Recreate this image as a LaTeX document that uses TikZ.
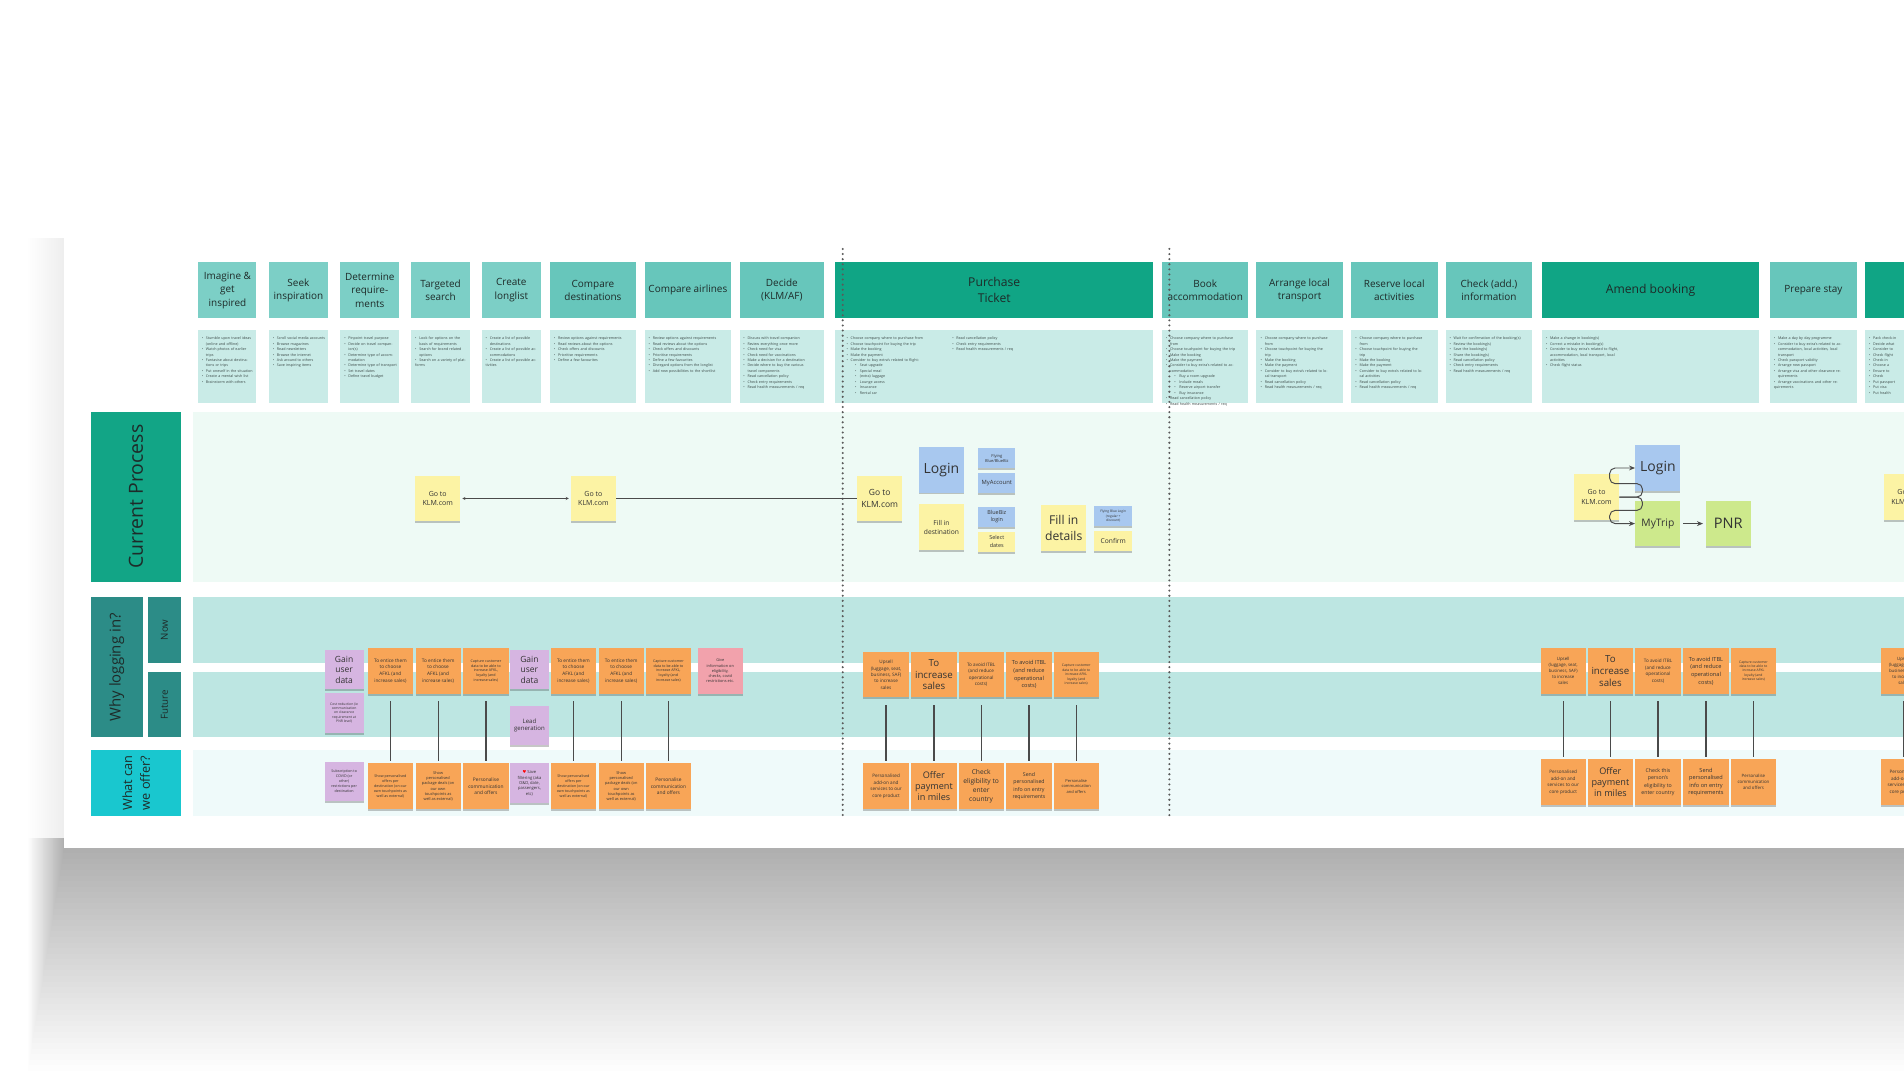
\documentclass[tikz,border=0pt]{standalone}
\usepackage{fontspec}
\setmainfont{Open Sans}
\newfontfamily\lanefont{Open Sans}
\newfontfamily\symfont{DejaVu Sans}
\usetikzlibrary{arrows.meta,shadows}
\definecolor{hdrL}{HTML}{7CCFC6}
\definecolor{hdrM}{HTML}{67C6BB}
\definecolor{hdrD}{HTML}{10A585}
\definecolor{descC}{HTML}{C9EBE7}
\definecolor{cpBox}{HTML}{12A586}
\definecolor{cpLane}{HTML}{EEFAF5}
\definecolor{whyBox}{HTML}{2C8C87}
\definecolor{whyLane}{HTML}{BDE6E2}
\definecolor{offBox}{HTML}{19C7CF}
\definecolor{offLane}{HTML}{EFFAFA}
\definecolor{yel}{HTML}{FCF3A4}
\definecolor{blu}{HTML}{A8C8EF}
\definecolor{grn}{HTML}{CDE98C}
\definecolor{org}{HTML}{F8A557}
\definecolor{pur}{HTML}{D6B5E1}
\definecolor{pnk}{HTML}{F2A2AC}
\definecolor{txt}{HTML}{1E2B29}
\definecolor{stxt}{HTML}{333333}
\definecolor{dtxt}{HTML}{3C4A48}
\definecolor{lnC}{HTML}{4A4A4A}
\definecolor{dotC}{HTML}{5A5A5A}
\newcommand\fz[2]{\fontsize{#1}{#2}\selectfont}
\newcommand\dbi[1]{\par\hangindent=3.4pt\hangafter=1\noindent\makebox[3.4pt][l]{•}#1}
\newcommand\dsbi[1]{\par\hangindent=11pt\hangafter=1\noindent\hspace*{7pt}\makebox[4pt][l]{•}#1}
\tikzset{
  hdr/.style={fill=#1, minimum height=46, inner sep=0pt, align=center, text=txt, font=\fz{8.2}{11}},
  desc/.style={fill=descC, minimum height=60.4, inner sep=0pt},
  dtx/.style={anchor=north west, inner sep=0pt, text=dtxt, align=left, font=\fz{3}{4.5}},
  lbl/.style={rotate=90, inner sep=0pt, text=txt, align=center},
  stk/.style={fill=#1, text=stxt, align=center, inner sep=0.5pt,
     drop shadow={shadow xshift=0pt, shadow yshift=-1.6pt, opacity=0.28, fill=black!80}},
  sq/.style={minimum width=37.2, minimum height=37.6},
  sm/.style={minimum width=30.5, minimum height=16.5},
  pq/.style={minimum width=32, minimum height=32.5},
  conn/.style={draw=lnC, line width=0.8pt},
  vlink/.style={draw=lnC, line width=1pt, shorten <=6pt, shorten >=2pt},
  dotline/.style={draw=dotC, line width=1.9pt, line cap=round, dash pattern=on 0pt off 4.2pt},
  tip/.style={-{Stealth[length=5pt,width=4pt]}}
}
\begin{document}
\begin{tikzpicture}[x=1pt,y=-1pt]
\useasboundingbox (0,0) rectangle (1568,889);
\clip (0,0) rectangle (1568,889);
\fill[white] (0,0) rectangle (1568,889);
% board shadow: soft gradient below the board, lighter at the left
\shade[left color=white, right color=black!7] (22,196) rectangle (53,690);
\foreach \i in {1,...,40} {
  \fill[black, opacity=0.0072] (53-\i*0.75,690) rectangle (1620,698+\i*4.6);
}
\fill[white] (53,190) rectangle (1620,698);

% ---------- headers ----------
\node[hdr=hdrL, minimum width=47.8] (h1) at (187.3,239) {Imagine \&\\get\\inspired};
\node[hdr=hdrL, minimum width=48.5] (h2) at (245.75,239) {Seek\\inspiration};
\node[hdr=hdrL, minimum width=48.5] (h3) at (304.55,239) {Determine\\require-\\ments};
\node[hdr=hdrL, minimum width=48.2] (h4) at (362.8,239) {Targeted\\search};
\node[hdr=hdrL, minimum width=48.6] (h5) at (421.1,239) {Create\\longlist};
\node[hdr=hdrM, minimum width=70.6] (h6) at (488.3,239) {Compare\\destinations};
\node[hdr=hdrM, minimum width=71] (h7) at (566.5,239) {Compare airlines};
\node[hdr=hdrM, minimum width=69.7] (h8) at (643.85,239) {Decide\\(KLM/AF)};
\node[hdr=hdrD, minimum width=261.8, font=\fz{10}{13}] (h9) at (818.8,239) {Purchase\\Ticket};
\node[hdr=hdrM, minimum width=71] (h10) at (992.5,239) {Book\\accommodation};
\node[hdr=hdrM, minimum width=71.5] (h11) at (1070.25,239) {Arrange local\\transport};
\node[hdr=hdrM, minimum width=71.4] (h12) at (1148.2,239) {Reserve local\\activities};
\node[hdr=hdrM, minimum width=71.4] (h13) at (1226.2,239) {Check (add.)\\information};
\node[hdr=hdrD, minimum width=179, font=\fz{10}{13}] (h14) at (1359.3,239) {Amend booking};
\node[hdr=hdrM, minimum width=71.3] (h15) at (1493.35,239) {Prepare stay};
\node[hdr=hdrD, minimum width=180] (h16) at (1625.7,239) {};

% ---------- description boxes ----------
\node[desc, minimum width=47.8] (b1) at (187.3,302) {};
\node[desc, minimum width=48.5] (b2) at (245.75,302) {};
\node[desc, minimum width=48.5] (b3) at (304.55,302) {};
\node[desc, minimum width=48.2] (b4) at (362.8,302) {};
\node[desc, minimum width=48.6] (b5) at (421.1,302) {};
\node[desc, minimum width=70.6] (b6) at (488.3,302) {};
\node[desc, minimum width=71] (b7) at (566.5,302) {};
\node[desc, minimum width=69.7] (b8) at (643.85,302) {};
\node[desc, minimum width=261.8] (b9) at (818.8,302) {};
\node[desc, minimum width=71] (b10) at (992.5,302) {};
\node[desc, minimum width=71.5] (b11) at (1070.25,302) {};
\node[desc, minimum width=71.4] (b12) at (1148.2,302) {};
\node[desc, minimum width=71.4] (b13) at (1226.2,302) {};
\node[desc, minimum width=179] (b14) at (1359.3,302) {};
\node[desc, minimum width=71.3] (b15) at (1493.35,302) {};
\node[desc, minimum width=180] (b16) at (1625.7,302) {};

\node[dtx, text width=43] (t1) at (166,275) {\dbi{Stumble upon travel ideas (online and offline)}\dbi{Watch photos of earlier trips}\dbi{Fantasise about destinations or trips}\dbi{Put oneself in the situation}\dbi{Create a mental wish list}\dbi{Brainstorm with others}};
\node[dtx, text width=44] (t2) at (224.5,275) {\dbi{Scroll social media accounts}\dbi{Browse magazines}\dbi{Read newsletters}\dbi{Browse the internet}\dbi{Ask around to others}\dbi{Save inspiring items}};
\node[dtx, text width=44] (t3) at (283.3,275) {\dbi{Pinpoint travel purpose}\dbi{Decide on travel companion(s)}\dbi{Determine type of accommodation}\dbi{Determine type of transport}\dbi{Set travel dates}\dbi{Define travel budget}};
\node[dtx, text width=43] (t4) at (341.7,275) {\dbi{Look for options on the basis of requirements}\dbi{Search for brand related options}\dbi{Search on a variety of platforms}};
\node[dtx, text width=43] (t5) at (399.8,275) {\dbi{Create a list of possible destinations}\dbi{Create a list of possible accommodations}\dbi{Create a list of possible activities}};
\node[dtx, text width=60] (t6) at (456,275) {\dbi{Review options against requirements}\dbi{Read reviews about the options}\dbi{Check offers and discounts}\dbi{Prioritise requirements}\dbi{Define a few favourites}};
\node[dtx, text width=60] (t7) at (534,275) {\dbi{Review options against requirements}\dbi{Read reviews about the options}\dbi{Check offers and discounts}\dbi{Prioritise requirements}\dbi{Define a few favourites}\dbi{Disregard options from the longlist}\dbi{Add new possibilities to the shortlist}};
\node[dtx, text width=58] (t8) at (612,275) {\dbi{Discuss with travel companion}\dbi{Review everything once more}\dbi{Check need for visa}\dbi{Check need for vaccinations}\dbi{Make a decision for a destination}\dbi{Decide where to buy the various travel components}\dbi{Read cancellation policy}\dbi{Check entry requirements}\dbi{Read health measurements / req}};
\node[dtx, text width=82] (t9a) at (697,275) {\dbi{Choose company where to purchase from}\dbi{Choose touchpoint for buying the trip}\dbi{Make the booking}\dbi{Make the payment}\dbi{Consider to buy extra's related to flight:}\dsbi{Seat upgrade}\dsbi{Special meal}\dsbi{(extra) luggage}\dsbi{Lounge access}\dsbi{Insurance}\dsbi{Rental car}};
\node[dtx, text width=80] (t9b) at (784,275) {\dbi{Read cancellation policy}\dbi{Check entry requirements}\dbi{Read health measurements / req}};
\node[dtx, text width=58] (t10) at (960,275) {\dbi{Choose company where to purchase from}\dbi{Choose touchpoint for buying the trip}\dbi{Make the booking}\dbi{Make the payment}\dbi{Consider to buy extra's related to accommodation}\dsbi{Buy a room upgrade}\dsbi{Include meals}\dsbi{Reserve airport transfer}\dsbi{Buy insurance}\dbi{Read cancellation policy}\dbi{Read health measurements / req}};
\node[dtx, text width=57] (t11) at (1038,275) {\dbi{Choose company where to purchase from}\dbi{Choose touchpoint for buying the trip}\dbi{Make the booking}\dbi{Make the payment}\dbi{Consider to buy extra's related to local transport}\dbi{Read cancellation policy}\dbi{Read health measurements / req}};
\node[dtx, text width=57] (t12) at (1116,275) {\dbi{Choose company where to purchase from}\dbi{Choose touchpoint for buying the trip}\dbi{Make the booking}\dbi{Make the payment}\dbi{Consider to buy extra's related to local activities}\dbi{Read cancellation policy}\dbi{Read health measurements / req}};
\node[dtx, text width=62] (t13) at (1193.5,275) {\dbi{Wait for confirmation of the booking(s)}\dbi{Review the booking(s)}\dbi{Save the booking(s)}\dbi{Share the booking(s)}\dbi{Read cancellation policy}\dbi{Check entry requirements}\dbi{Read health measurements / req}};
\node[dtx, text width=62] (t14) at (1273,275) {\dbi{Make a change in booking(s)}\dbi{Correct a mistake in booking(s)}\dbi{Consider to buy extra's related to flight, accommodation, local transport, local activities}\dbi{Check flight status}};
\node[dtx, text width=58] (t15) at (1460.7,275) {\dbi{Make a day by day programme}\dbi{Consider to buy extra's related to accommodation, local activities, local transport}\dbi{Check passport validity}\dbi{Arrange new passport}\dbi{Arrange visa and other clearance requirements}\dbi{Arrange vaccinations and other requirements}};
\node[dtx, text width=28] (t16) at (1539,275) {\dbi{Pack check-in}\dbi{Decide what}\dbi{Consider to}\dbi{Check flight}\dbi{Check-in}\dbi{Choose a}\dbi{Ensure to}\dbi{Check}\dbi{Put passport}\dbi{Put visa}\dbi{Put health}};

% ---------- lanes ----------
\fill[cpLane] (158.6,339) rectangle (1620,479);
\fill[whyLane] (158.6,492) rectangle (1620,545.7);
\fill[whyLane] (158.6,553.7) rectangle (1620,607.2);
\fill[offLane] (158.6,617.7) rectangle (1620,672);
\node[lbl, fill=cpBox, minimum width=140, minimum height=73.7, font=\lanefont\fz{16}{19}] (cp) at (111.85,409) {Current Process};
\node[lbl, fill=whyBox, minimum width=115.2, minimum height=42.4, font=\lanefont\fz{12.3}{15}] (why) at (96.2,549.6) {Why logging in?};
\node[lbl, fill=whyBox, minimum width=53.7, minimum height=26.5, font=\lanefont\fz{8}{9}] (now) at (135.45,518.85) {Now};
\node[lbl, fill=whyBox, minimum width=53.5, minimum height=26.5, font=\lanefont\fz{8}{9}] (fut) at (135.45,580.45) {Future};
\node[lbl, fill=offBox, minimum width=54.3, minimum height=74.4, font=\lanefont\fz{10.5}{14.5}] (off) at (112.2,644.85) {What can\\we offer?};

% ---------- dotted separators ----------
\draw[dotline] (694,205) -- (694,672);
\draw[dotline] (963,205) -- (963,672);

% ---------- current process ----------
\node[stk=yel, sq, font=\fz{5.8}{8}] (g1) at (360.5,410.5) {Go to\\KLM.com};
\node[stk=yel, sq, font=\fz{5.8}{8}] (g2) at (488.7,410.5) {Go to\\KLM.com};
\node[stk=yel, sq, font=\fz{7}{9.5}] (g3) at (724.5,410.5) {Go to\\KLM.com};
\node[stk=blu, sq, font=\fz{11.5}{14}] (l1) at (775.3,386.8) {Login};
\node[stk=blu, sm, font=\fz{3.3}{4.4}] (fb) at (820.9,377.5) {Flying\\Blue/BlueBiz};
\node[stk=blu, sm, font=\fz{4.8}{6}] (ma) at (820.9,398) {MyAccount};
\node[stk=yel, sq, font=\fz{5.5}{7.6}] (fd) at (775.3,434.2) {Fill in\\destination};
\node[stk=blu, sm, font=\fz{4.5}{6.2}] (bb) at (820.9,425.5) {BlueBiz\\login};
\node[stk=yel, sm, font=\fz{4.5}{6.2}] (sd) at (820.9,446) {Select\\dates};
\node[stk=yel, sq, font=\fz{10}{13}] (fi) at (876,434.8) {Fill in\\details};
\node[stk=blu, minimum width=31, minimum height=16.5, font=\fz{2.7}{3.6}] (fbl) at (916.8,425) {Flying Blue Login\\(regular +\\discount)};
\node[stk=yel, minimum width=31, minimum height=16.5, font=\fz{5.5}{7}] (cf) at (916.8,445.3) {Confirm};
\node[stk=yel, sq, font=\fz{5.8}{8}] (g4) at (1314.8,409.3) {Go to\\KLM.com};
\node[stk=blu, sq, font=\fz{11.5}{14}] (l2) at (1365.3,385.4) {Login};
\node[stk=grn, sq, font=\fz{8.5}{10}] (mt) at (1365.3,431.2) {MyTrip};
\node[stk=grn, sq, font=\fz{12}{14}] (pnr) at (1423.3,431.2) {PNR};
\node[stk=yel, sq, font=\fz{5.8}{8}] (g5) at (1570,409.3) {Go to\\KLM.com};

\draw[conn, {Stealth[length=2.5pt,width=2.5pt]}-{Stealth[length=2.5pt,width=2.5pt]}, shorten <=1.5pt, shorten >=1.5pt] (g1) -- (g2);
\draw[conn] (g2) -- (g3);
\draw[conn, tip, rounded corners=4.5pt] (g4.east) -- ++(19,0) -- ++(0,-11) -- ++(-27,0) |- (l2.west);
\draw[conn, tip, rounded corners=4.5pt] (g4.east) -- ++(19,0) -- ++(0,11) -- ++(-27,0) |- (mt.west);
\draw[conn, tip, shorten <=2pt, shorten >=2pt] (mt) -- (pnr);

% ---------- why / offer group 1 ----------
\node[stk=pur, pq, font=\fz{7}{8.8}] (w1) at (283.4,551.5) {Gain\\user\\data};
\node[stk=pur, minimum width=32, minimum height=33, font=\fz{2.8}{3.6}] (w2) at (283.4,587) {Cost reduction (ie\\communication\\on clearance\\requirement at\\PNR level)};
\node[stk=org, sq, font=\fz{3.9}{5.4}] (w3) at (321.5,552.4) {To entice them\\to choose\\AFKL (and\\increase sales)};
\node[stk=org, sq, font=\fz{3.9}{5.4}] (w4) at (360.8,552.4) {To entice them\\to choose\\AFKL (and\\increase sales)};
\node[stk=org, sq, font=\fz{3}{3.9}] (w5) at (400.2,552.4) {Capture customer\\data to be able to\\increase AFKL,\\loyalty (and\\increase sales)};
\node[stk=pur, pq, font=\fz{7}{8.8}] (w6) at (436,551.5) {Gain\\user\\data};
\node[stk=pur, pq, font=\fz{5}{6.3}] (w7) at (436,597.5) {Lead\\generation};
\node[stk=org, sq, font=\fz{3.9}{5.4}] (w8) at (472.2,552.4) {To entice them\\to choose\\AFKL (and\\increase sales)};
\node[stk=org, sq, font=\fz{3.9}{5.4}] (w9) at (511.6,552.4) {To entice them\\to choose\\AFKL (and\\increase sales)};
\node[stk=org, sq, font=\fz{3}{3.9}] (w10) at (550.5,552.4) {Capture customer\\data to be able to\\increase AFKL,\\loyalty (and\\increase sales)};
\node[stk=pnk, sq, font=\fz{3.2}{4.2}] (w11) at (593.2,552.4) {Give\\information on\\eligibility,\\checks, covid\\restrictions etc.};

\node[stk=pur, pq, font=\fz{3}{4}] (o1) at (283.4,643.4) {Subscription to\\COVID (or\\other)\\restrictions per\\destination};
\node[stk=org, sq, font=\fz{3}{4.1}] (o2) at (321.5,647.5) {Show personalised\\offers per\\destination (on our\\own touchpoints as\\well as external)};
\node[stk=org, sq, font=\fz{3.2}{4.3}] (o3) at (360.8,647.5) {Show\\personalised\\package deals (on\\our own\\touchpoints as\\well as external)};
\node[stk=org, sq, font=\fz{4}{5.2}] (o4) at (400.2,647.5) {Personalise\\communication\\and offers};
\node[stk=pur, minimum width=32, minimum height=33, font=\fz{3.4}{4.4}] (o5) at (436,645) {{\symfont\color{red}♥} Save\\filtering (aka\\O\&D, date,\\passengers,\\etc)};
\node[stk=org, sq, font=\fz{3}{4.1}] (o6) at (472.2,647.5) {Show personalised\\offers per\\destination (on our\\own touchpoints as\\well as external)};
\node[stk=org, sq, font=\fz{3.2}{4.3}] (o7) at (511.6,647.5) {Show\\personalised\\package deals (on\\our own\\touchpoints as\\well as external)};
\node[stk=org, sq, font=\fz{4}{5.2}] (o8) at (550.5,647.5) {Personalise\\communication\\and offers};

\draw[vlink] (w3) -- (o2);
\draw[vlink] (w4) -- (o3);
\draw[vlink] (w5) -- (o4);
\draw[vlink] (w8) -- (o6);
\draw[vlink] (w9) -- (o7);
\draw[vlink] (w10) -- (o8);

% ---------- group 2 (purchase) ----------
\node[stk=org, sq, font=\fz{3.8}{5.2}] (a1) at (729.7,555.6) {Upsell\\(luggage, seat,\\business, SAF)\\to increase\\sales};
\node[stk=org, sq, font=\fz{8}{9.8}] (a2) at (769.1,555.6) {To\\increase\\sales};
\node[stk=org, sq, font=\fz{3.8}{5.4}] (a3) at (808,555.6) {To avoid ITBL\\(and reduce\\operational\\costs)};
\node[stk=org, sq, font=\fz{4.6}{6.3}] (a4) at (847.4,555.6) {To avoid ITBL\\(and reduce\\operational\\costs)};
\node[stk=org, sq, font=\fz{2.8}{3.7}] (a5) at (886.3,555.6) {Capture customer\\data to be able to\\increase AFKL\\loyalty (and\\increase sales)};
\node[stk=org, sq, font=\fz{3.8}{5.6}] (a6) at (729.7,647.5) {Personalised\\add-on and\\services to our\\core product};
\node[stk=org, sq, font=\fz{7.5}{9.2}] (a7) at (769.1,647.5) {Offer\\payment\\in miles};
\node[stk=org, sq, font=\fz{5.5}{7.3}] (a8) at (808,647.5) {Check\\eligibility to\\enter\\country};
\node[stk=org, sq, font=\fz{4.3}{6}] (a9) at (847.4,647.5) {Send\\personalised\\info on entry\\requirements};
\node[stk=org, sq, font=\fz{3.3}{4.6}] (a10) at (886.3,647.5) {Personalise\\communication\\and offers};
\draw[vlink] (a1) -- (a6);
\draw[vlink] (a2) -- (a7);
\draw[vlink] (a3) -- (a8);
\draw[vlink] (a4) -- (a9);
\draw[vlink] (a5) -- (a10);

% ---------- group 3 (amend) ----------
\node[stk=org, sq, font=\fz{3.6}{5}] (c1) at (1287.3,552.6) {Upsell\\(luggage, seat,\\business, SAF)\\to increase\\sales};
\node[stk=org, sq, font=\fz{8}{9.8}] (c2) at (1326.2,552.6) {To\\increase\\sales};
\node[stk=org, sq, font=\fz{3.8}{5.4}] (c3) at (1365.4,552.6) {To avoid ITBL\\(and reduce\\operational\\costs)};
\node[stk=org, sq, font=\fz{4.6}{6.3}] (c4) at (1404.9,552.6) {To avoid ITBL\\(and reduce\\operational\\costs)};
\node[stk=org, sq, font=\fz{2.8}{3.7}] (c5) at (1444,552.6) {Capture customer\\data to be able to\\increase AFKL\\loyalty (and\\increase sales)};
\node[stk=org, sq, font=\fz{3.8}{5.6}] (c6) at (1287.3,644.2) {Personalised\\add-on and\\services to our\\core product};
\node[stk=org, sq, font=\fz{7.5}{9.2}] (c7) at (1326.2,644.2) {Offer\\payment\\in miles};
\node[stk=org, sq, font=\fz{4.3}{6}] (c8) at (1365.4,644.2) {Check this\\person's\\eligibility to\\enter country};
\node[stk=org, sq, font=\fz{4.6}{6.2}] (c9) at (1404.9,644.2) {Send\\personalised\\info on entry\\requirements};
\node[stk=org, sq, font=\fz{3.6}{5}] (c10) at (1444,644.2) {Personalise\\communication\\and offers};
\draw[vlink] (c1) -- (c6);
\draw[vlink] (c2) -- (c7);
\draw[vlink] (c3) -- (c8);
\draw[vlink] (c4) -- (c9);
\draw[vlink] (c5) -- (c10);

% ---------- group 4 (partial, right edge) ----------
\node[stk=org, sq, font=\fz{3.6}{5}] (e1) at (1567.5,552.6) {Upsell\\(luggage, seat,\\business, SAF)\\to increase\\sales};
\node[stk=org, sq, font=\fz{3.8}{5.6}] (e2) at (1567.5,644.2) {Personalised\\add-on and\\services to our\\core product};
\draw[vlink] (e1) -- (e2);
\end{tikzpicture}
\end{document}
